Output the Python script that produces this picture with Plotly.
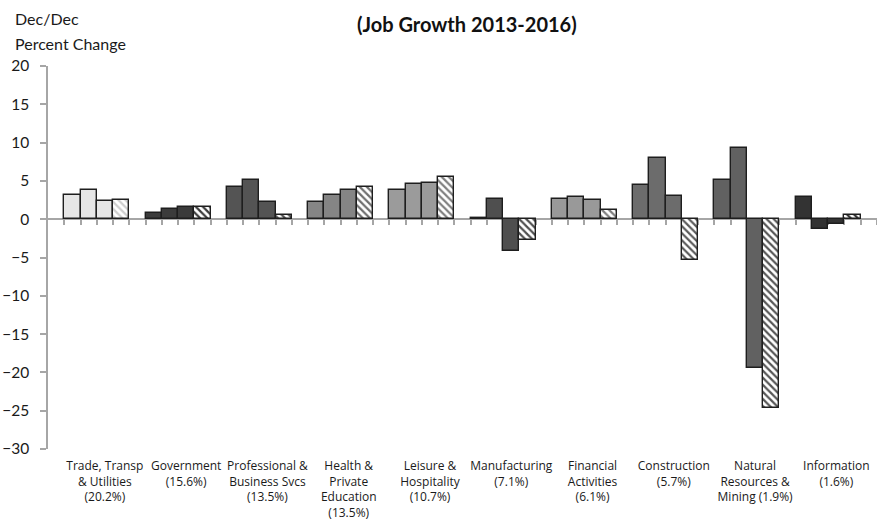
import plotly.graph_objects as go

# Dec/Dec percent change in employment by industry, 2013-2016
years = ["2013", "2014", "2015", "2016"]
industries = [
    "Trade, Transp<br>& Utilities<br>(20.2%)",
    "Government<br>(15.6%)",
    "Professional &<br>Business Svcs<br>(13.5%)",
    "Health &<br>Private<br>Education<br>(13.5%)",
    "Leisure &<br>Hospitality<br>(10.7%)",
    "Manufacturing<br>(7.1%)",
    "Financial<br>Activities<br>(6.1%)",
    "Construction<br>(5.7%)",
    "Natural<br>Resources &<br>Mining (1.9%)",
    "Information<br>(1.6%)",
]
change_2013 = [3.2, 0.8, 4.15, 2.2, 3.85, 0.1, 2.7, 4.5, 5.15, 2.85]
change_2014 = [3.85, 1.35, 5.15, 3.1, 4.55, 2.6, 2.85, 8.05, 9.25, -1.25]
change_2015 = [2.35, 1.65, 2.2, 3.75, 4.7, -4.15, 2.55, 3.05, -19.45, -0.6]
change_2016 = [2.55, 1.65, 0.6, 4.2, 5.5, -2.65, 1.15, -5.3, -24.7, 0.55]
series = [change_2013, change_2014, change_2015, change_2016]

# one grey shade per industry group
group_colors = ["#e6e6e6", "#3b3b3b", "#545454", "#858585", "#9b9b9b",
                "#4f4f4f", "#999999", "#6c6c6c", "#616161", "#333333"]
hatch_colors = ["#cfcfcf", "#3b3b3b", "#545454", "#6f6f6f", "#7f7f7f",
                "#4f4f4f", "#7f7f7f", "#5c5c5c", "#565656", "#333333"]

ytick_vals = [-30, -25, -20, -15, -10, -5, 0, 5, 10, 15, 20]

# layout in "slots": one leading empty slot, then 4 bars + 1 gap per group
n_groups = len(industries)
slots_per_group = 5
n_slots = 1 + n_groups * slots_per_group

fig = go.Figure()
for k, (yr, vals) in enumerate(zip(years, series)):
    xs = [1 + slots_per_group * g + k + 0.5 for g in range(n_groups)]
    marker = dict(color=group_colors, line=dict(color="#1e1e1e", width=1.4))
    if k == 3:
        marker = dict(
            color="white",
            line=dict(color="#1e1e1e", width=1.4),
            pattern=dict(shape="\\", fgcolor=hatch_colors, bgcolor="white",
                         size=5, solidity=0.45, fillmode="replace"),
        )
    fig.add_trace(go.Bar(x=xs, y=vals, width=1, name=yr, marker=marker,
                         showlegend=False, xaxis="x", yaxis="y"))

# empty trace so the tick-mark axis along zero is drawn
fig.add_trace(go.Scatter(x=[], y=[], xaxis="x2", yaxis="y", showlegend=False))

label_x = [1 + slots_per_group * g + 2.5 for g in range(n_groups)]

fig.update_layout(
    width=877, height=523,
    margin=dict(l=48, r=0, t=66, b=74),
    paper_bgcolor="white", plot_bgcolor="white",
    bargap=0,
    font=dict(family="Lato", color="#1a1a1a"),
    xaxis=dict(
        range=[0, n_slots], tickmode="array", tickvals=label_x, ticktext=industries,
        ticks="", showline=False, showgrid=False, zeroline=False,
        tickfont=dict(family="Open Sans", size=12, color="#1a1a1a"),
        ticklabelstandoff=8,
    ),
    xaxis2=dict(
        range=[0, n_slots], overlaying="x", anchor="free", position=0.6,
        tickmode="array", tickvals=list(range(1, n_slots + 1)),
        ticks="outside", ticklen=5, tickwidth=1.5, tickcolor="#a6a6a6",
        showticklabels=False, showline=True, linecolor="#a6a6a6", linewidth=1.5,
        showgrid=False, zeroline=False, layer="below traces",
    ),
    yaxis=dict(
        range=[-30, 20], tickmode="array", tickvals=ytick_vals,
        ticks="outside", ticklen=6, tickwidth=1.5, tickcolor="#a6a6a6",
        showline=True, linecolor="#a6a6a6", linewidth=1.5,
        showgrid=False, zeroline=False,
        tickfont=dict(family="Lato", size=15.5, color="#1a1a1a"),
        ticklabelstandoff=8,
    ),
    annotations=[
        dict(text="(Job Growth 2013-2016)", xref="paper", yref="paper",
             x=(466.5 - 48) / 829, y=(449 - 24) / 383, xanchor="center", yanchor="middle",
             showarrow=False, font=dict(family="Lato", size=20, color="#111111", weight="bold")),
        dict(text="Dec/Dec", xref="paper", yref="paper",
             x=(13 - 48) / 829, y=(449 - 19) / 383, xanchor="left", yanchor="middle",
             showarrow=False, font=dict(family="Lato", size=16, color="#1a1a1a")),
        dict(text="Percent Change", xref="paper", yref="paper",
             x=(13 - 48) / 829, y=(449 - 44) / 383, xanchor="left", yanchor="middle",
             showarrow=False, font=dict(family="Lato", size=16, color="#1a1a1a")),
    ],
)

fig.write_html("out.html")
